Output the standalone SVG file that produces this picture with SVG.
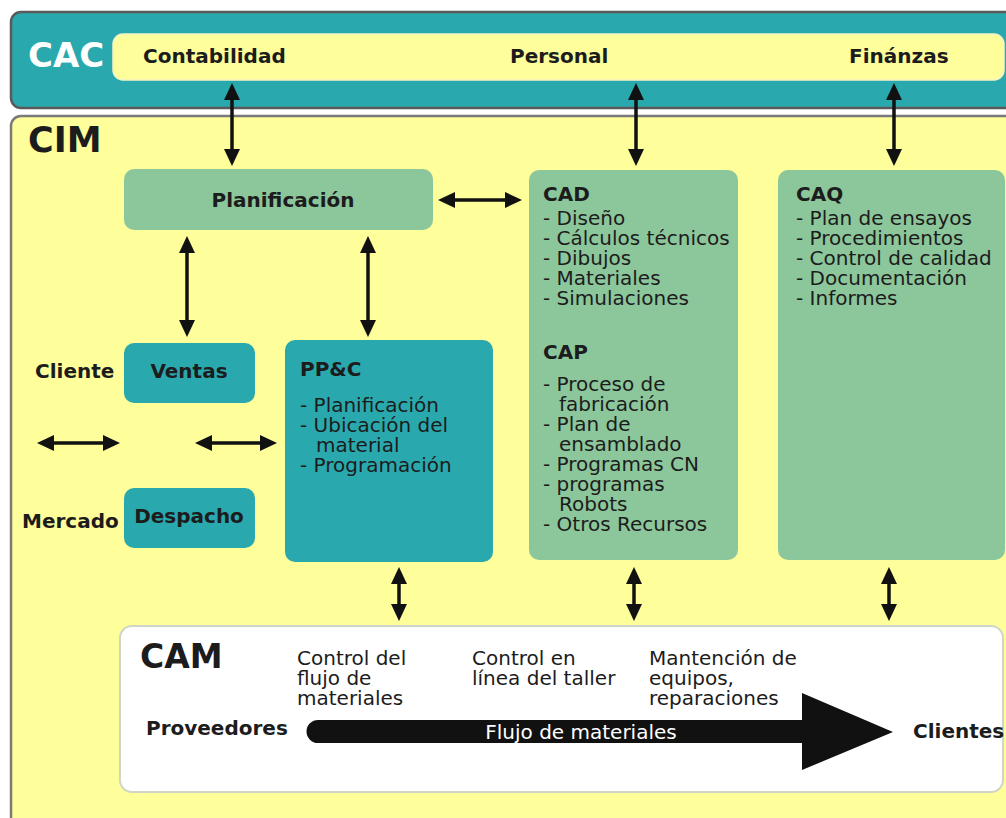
<svg xmlns="http://www.w3.org/2000/svg" width="1006" height="818" viewBox="0 0 1006 818">
<style>
text{font-family:"DejaVu Sans",Verdana,"Liberation Sans",sans-serif;font-size:20px;fill:#1c1c1c}
.b{font-weight:bold}
.big{font-weight:bold;font-size:34px}
.teal{fill:#29a9ae}
.green{fill:#8cc69b}
.conn line{stroke:#111;stroke-width:3.5;marker-start:url(#ah);marker-end:url(#ah)}
</style>
<defs>
<marker id="ah" viewBox="0 0 17 16" markerWidth="17" markerHeight="16" refX="9" refY="8" markerUnits="userSpaceOnUse" orient="auto-start-reverse">
<path d="M0,0 L17,8 L0,16 z" fill="#111"/>
</marker>
</defs>
<rect width="1006" height="818" fill="#ffffff"/>
<g id="cim">
<rect x="11" y="116" width="1010" height="720" rx="10" fill="#fefe9a" stroke="#7a7a7a" stroke-width="2.5"/>
<text x="28" y="152" class="big" style="font-size:35px">CIM</text>
</g>
<g id="cac">
<rect x="11" y="12" width="1010" height="96" rx="10" class="teal" stroke="#5a5a5a" stroke-width="2.5"/>
<rect x="113" y="34" width="891" height="46" rx="10" fill="#fefe9a" stroke="#f4f4c8" stroke-width="1.5"/>
<text x="28" y="67" class="big" style="fill:#ffffff">CAC</text>
<text x="143" y="63" class="b">Contabilidad</text>
<text x="510" y="63" class="b">Personal</text>
<text x="849" y="63" class="b">Finánzas</text>
</g>
<g id="planificacion">
<rect x="124" y="169" width="309" height="61" rx="10" class="green"/>
<text x="283" y="207" class="b" text-anchor="middle">Planificación</text>
</g>
<g id="cad-cap">
<rect x="529" y="170" width="209" height="390" rx="10" class="green"/>
<text x="543" y="201" class="b">CAD</text>
<text x="543" y="225"><tspan x="543">- Diseño</tspan><tspan x="543" dy="20">- Cálculos técnicos</tspan><tspan x="543" dy="20">- Dibujos</tspan><tspan x="543" dy="20">- Materiales</tspan><tspan x="543" dy="20">- Simulaciones</tspan></text>
<text x="543" y="359" class="b">CAP</text>
<text x="543" y="391"><tspan x="543">- Proceso de</tspan><tspan x="559" dy="20">fabricación</tspan><tspan x="543" dy="20">- Plan de</tspan><tspan x="559" dy="20">ensamblado</tspan><tspan x="543" dy="20">- Programas CN</tspan><tspan x="543" dy="20">- programas</tspan><tspan x="559" dy="20">Robots</tspan><tspan x="543" dy="20">- Otros Recursos</tspan></text>
</g>
<g id="caq">
<rect x="778" y="170" width="227" height="390" rx="10" class="green"/>
<text x="796" y="201" class="b">CAQ</text>
<text x="796" y="225"><tspan x="796">- Plan de ensayos</tspan><tspan x="796" dy="20">- Procedimientos</tspan><tspan x="796" dy="20">- Control de calidad</tspan><tspan x="796" dy="20">- Documentación</tspan><tspan x="796" dy="20">- Informes</tspan></text>
</g>
<g id="ppc">
<rect x="285" y="340" width="208" height="222" rx="10" class="teal"/>
<text x="300" y="376" class="b">PP&amp;C</text>
<text x="300" y="412"><tspan x="300">- Planificación</tspan><tspan x="300" dy="20">- Ubicación del</tspan><tspan x="316" dy="20">material</tspan><tspan x="300" dy="20">- Programación</tspan></text>
</g>
<g id="ventas">
<rect x="124" y="343" width="131" height="60" rx="10" class="teal"/>
<text x="189" y="378" class="b" text-anchor="middle">Ventas</text>
</g>
<g id="despacho">
<rect x="124" y="488" width="131" height="60" rx="10" class="teal"/>
<text x="189" y="523" class="b" text-anchor="middle">Despacho</text>
</g>
<g id="cliente"><text x="35" y="378" class="b">Cliente</text></g>
<g id="mercado"><text x="22" y="528" class="b">Mercado</text></g>
<g id="cam">
<rect x="120" y="626" width="883" height="166" rx="12" fill="#ffffff" stroke="#cfd6c8" stroke-width="2"/>
<text x="140" y="668" class="b" style="font-size:33px">CAM</text>
<text x="297" y="665"><tspan x="297">Control del</tspan><tspan x="297" dy="20">flujo de</tspan><tspan x="297" dy="20">materiales</tspan></text>
<text x="472" y="665"><tspan x="472">Control en</tspan><tspan x="472" dy="20">línea del taller</tspan></text>
<text x="649" y="665"><tspan x="649">Mantención de</tspan><tspan x="649" dy="20">equipos,</tspan><tspan x="649" dy="20">reparaciones</tspan></text>
<path d="M318 720 H802 V693 L893 732 L802 770 V743 H318 A11.5 11.5 0 0 1 318 720 Z" fill="#111"/>
<text x="581" y="739" text-anchor="middle" style="fill:#ffffff">Flujo de materiales</text>
<text x="146" y="735" class="b">Proveedores</text>
<text x="913" y="738" class="b">Clientes</text>
</g>
<g id="connectors" class="conn">
<line x1="232" y1="91" x2="232" y2="158"/>
<line x1="636" y1="91" x2="636" y2="158"/>
<line x1="894" y1="91" x2="894" y2="158"/>
<line x1="446" y1="200" x2="514" y2="200"/>
<line x1="187" y1="244" x2="187" y2="329"/>
<line x1="368" y1="244" x2="368" y2="329"/>
<line x1="45" y1="443" x2="112" y2="443"/>
<line x1="203" y1="443" x2="269" y2="443"/>
<line x1="399" y1="575" x2="399" y2="613"/>
<line x1="634" y1="575" x2="634" y2="613"/>
<line x1="889" y1="575" x2="889" y2="613"/>
</g>
</svg>
